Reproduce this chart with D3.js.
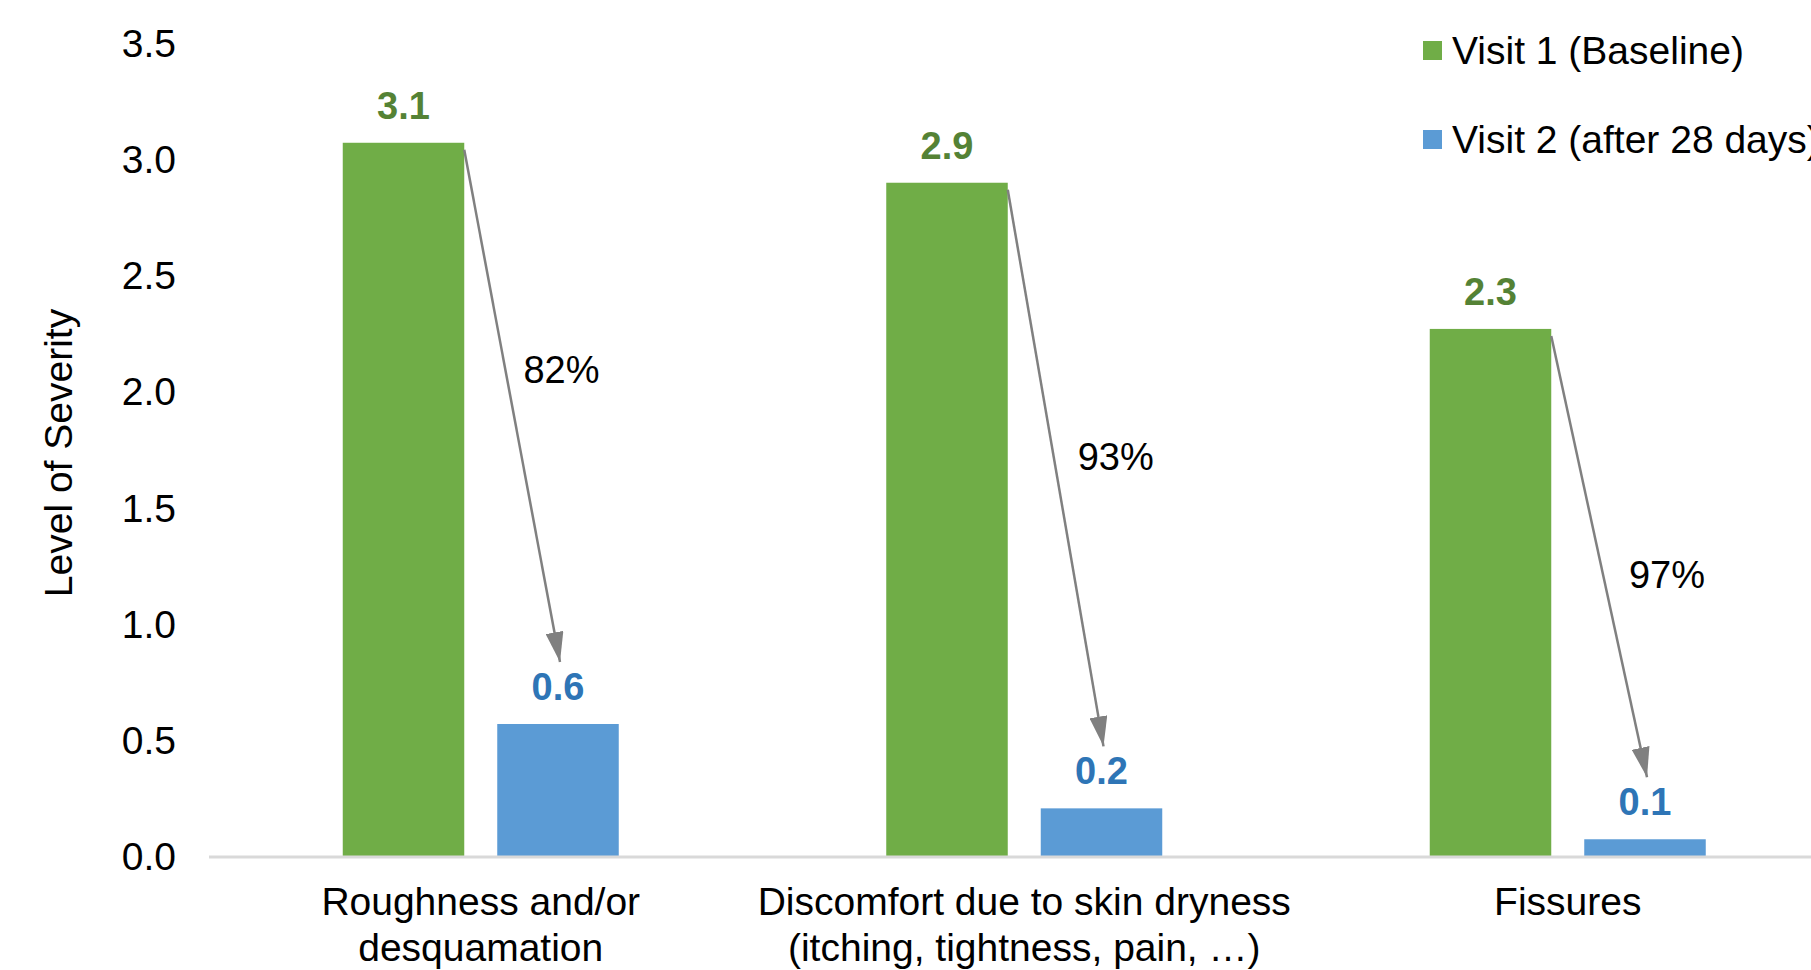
<!DOCTYPE html>
<html>
<head>
<meta charset="utf-8">
<script src="https://cdn.jsdelivr.net/npm/d3@7"></script>
<style>
  html, body { margin: 0; padding: 0; background: #fff; }
  svg { display: block; font-family: "Liberation Sans", Arial, sans-serif; }
</style>
</head>
<body>
<svg id="chart" width="1811" height="970"></svg>
<script>
// Mean severity scores per symptom, at baseline and after 28 days of use
const categories = [
  ["Roughness and/or", "desquamation"],
  ["Discomfort due to skin dryness", "(itching, tightness, pain, …)"],
  ["Fissures"]
];
const seriesNames = ["Visit 1 (Baseline)", "Visit 2 (after 28 days)"];
const visit1 = [3.069, 2.897, 2.268];
const visit2 = [0.568, 0.205, 0.072];
const reductionPct = [82, 93, 97];
const yTicks = [0, 0.5, 1.0, 1.5, 2.0, 2.5, 3.0, 3.5];

const colors = ["#70AD47", "#5B9BD5"];
const labelColors = ["#548235", "#2E75B6"];

const svg = d3.select("#chart");
const catKeys = categories.map((c, i) => i);

// Scales
const y = d3.scaleLinear().domain([0, 3.5]).range([856, 42.6]);
const groupPad = 1 - 276 / 543.5;
const x0 = d3.scaleBand().domain(catKeys).range([209, 209 + 3 * 543.5])
  .paddingInner(groupPad).paddingOuter(groupPad / 2);
const x1 = d3.scaleBand().domain([0, 1]).range([0, x0.bandwidth()]).paddingInner(0.2136);

const rows = catKeys.map(i => ({ i, values: [visit1[i], visit2[i]] }));

// Y axis: labels only, no domain line or ticks
const yAxis = d3.axisLeft(y).tickValues(yTicks).tickFormat(d3.format(".1f")).tickSize(0).tickPadding(0);
const yg = svg.append("g").attr("transform", "translate(176,0)").call(yAxis);
yg.select(".domain").remove();
yg.selectAll("text")
  .attr("font-size", 39).attr("fill", "#000")
  .attr("font-family", "'Liberation Sans', Arial, sans-serif")
  .attr("dy", "0.35em");

// Y axis title
svg.append("text")
  .attr("transform", "translate(58,453) rotate(-90)")
  .attr("text-anchor", "middle").attr("dy", "0.35em")
  .attr("font-size", 39).attr("fill", "#000")
  .text("Level of Severity");

// Bars
const groups = svg.append("g").selectAll("g").data(rows).join("g")
  .attr("transform", d => `translate(${x0(d.i)},0)`);

groups.selectAll("rect").data(d => d.values.map((v, s) => ({ v, s }))).join("rect")
  .attr("x", d => x1(d.s))
  .attr("width", x1.bandwidth())
  .attr("y", d => y(d.v))
  .attr("height", d => y(0) - y(d.v))
  .attr("fill", d => colors[d.s]);

// Value labels above bars
groups.selectAll("text.val").data(d => d.values.map((v, s) => ({ v, s }))).join("text")
  .attr("class", "val")
  .attr("x", d => x1(d.s) + x1.bandwidth() / 2)
  .attr("y", d => y(d.v) - 24)
  .attr("text-anchor", "middle")
  .attr("font-size", 38).attr("font-weight", "bold")
  .attr("fill", d => labelColors[d.s])
  .text(d => d3.format(".1f")(d.v));

// X axis baseline
svg.append("line")
  .attr("x1", 209).attr("x2", 1811)
  .attr("y1", y(0) + 1).attr("y2", y(0) + 1)
  .attr("stroke", "#D9D9D9").attr("stroke-width", 3);

// Category labels
const catText = svg.append("g").selectAll("text").data(rows).join("text")
  .attr("text-anchor", "middle")
  .attr("font-size", 39).attr("fill", "#000");
catText.selectAll("tspan").data(d => categories[d.i].map(line => ({ line, i: d.i }))).join("tspan")
  .attr("x", d => x0(d.i) + x0.bandwidth() / 2)
  .attr("y", (d, k) => 915 + k * 46)
  .text(d => d.line);

// Reduction arrows from baseline bar to follow-up bar
const defs = svg.append("defs");
defs.append("marker")
  .attr("id", "arrowhead")
  .attr("markerUnits", "userSpaceOnUse")
  .attr("viewBox", "0 0 30 18")
  .attr("markerWidth", 30).attr("markerHeight", 18)
  .attr("refX", 30).attr("refY", 9)
  .attr("orient", "auto")
  .append("path").attr("d", "M0,0 L30,9 L0,18 Z").attr("fill", "#808080");

const labelT = [0.43, 0.48, 0.54];
const labelOffset = [56, 62, 64];
rows.forEach(d => {
  const gx = x0(d.i);
  const sx = gx + x1(0) + x1.bandwidth();
  const sy = y(visit1[d.i]) + 7;
  const ex = gx + x1(1) + x1.bandwidth() / 2 + 2;
  const ey = y(visit2[d.i]) - 62;
  svg.append("line")
    .attr("x1", sx).attr("y1", sy).attr("x2", ex).attr("y2", ey)
    .attr("stroke", "#808080").attr("stroke-width", 2.5)
    .attr("marker-end", "url(#arrowhead)");
  const t = labelT[d.i];
  svg.append("text")
    .attr("x", sx + t * (ex - sx) + labelOffset[d.i])
    .attr("y", sy + t * (ey - sy))
    .attr("dy", "0.35em")
    .attr("text-anchor", "middle")
    .attr("font-size", 38).attr("fill", "#000")
    .text(reductionPct[d.i] + "%");
});

// Legend
const legend = svg.append("g").selectAll("g").data(seriesNames).join("g")
  .attr("transform", (d, k) => `translate(1423,${50.5 + k * 89})`);
legend.append("rect")
  .attr("x", 0).attr("y", -9.5).attr("width", 19).attr("height", 19)
  .attr("fill", (d, k) => colors[k]);
legend.append("text")
  .attr("x", 29).attr("dy", "0.35em")
  .attr("font-size", 39).attr("fill", "#000")
  .text(d => d);
</script>
</body>
</html>
